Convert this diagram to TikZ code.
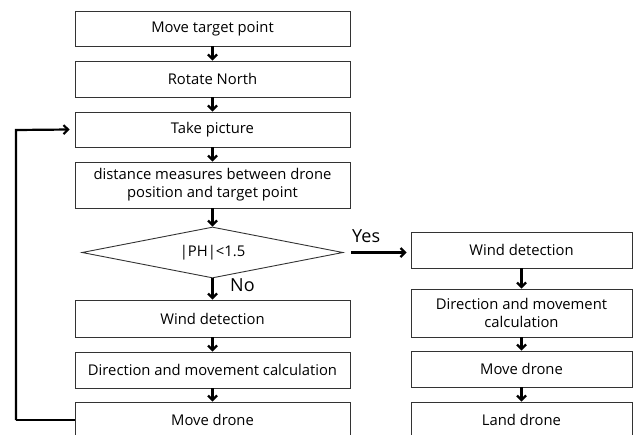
\documentclass[tikz,border=0pt]{standalone}
\usepackage{fontspec}
\setmainfont{Open Sans}
\usetikzlibrary{arrows.meta,shapes.geometric}
\begin{document}
\begin{tikzpicture}[x=1pt,y=-1pt,
  box/.style={draw=black!80,line width=0.9pt,fill=white,inner sep=0pt,align=center,font=\fontsize{14.8}{18}\selectfont},
  arr/.style={line width=2.2pt,-{Straight Barb[length=4.5pt,width=9pt,line width=2.2pt]}},
  lbl/.style={font=\fontsize{18}{20}\selectfont,inner sep=0pt}]
\useasboundingbox (0,0) rectangle (637,434);
\node[box,minimum width=275pt,minimum height=35pt] (b1) at (212.5,28.5) {Move target point};
\node[box,minimum width=275pt,minimum height=36pt] (b2) at (212.5,79) {Rotate North};
\node[box,minimum width=275pt,minimum height=35pt] (b3) at (212.5,129.5) {Take picture};
\node[box,minimum width=275pt,minimum height=46pt] (b4) at (212.5,185) {distance measures between drone\\position and target point};
\node[draw=black!80,line width=0.9pt,diamond,aspect=5.1,minimum width=261pt,minimum height=51pt,inner sep=0pt,font=\fontsize{14.8}{18}\selectfont] (d) at (212.5,252.5) {|PH|<1.5};
\node[box,minimum width=275pt,minimum height=37pt] (l1) at (212.5,318.5) {Wind detection};
\node[box,minimum width=275pt,minimum height=36pt] (l2) at (212.5,370) {Direction and movement calculation};
\node[box,minimum width=275pt,minimum height=36pt] (l3) at (212.5,420) {Move drone};
\node[box,minimum width=221pt,minimum height=36pt] (r1) at (521.5,250) {Wind detection};
\node[box,minimum width=221pt,minimum height=48pt] (r2) at (521.5,313) {Direction and movement\\calculation};
\node[box,minimum width=221pt,minimum height=36pt] (r3) at (521.5,369) {Move drone};
\node[box,minimum width=221pt,minimum height=36pt] (r4) at (521.5,420) {Land drone};
\draw[arr] (b1) -- (b2);
\draw[arr] (b2) -- (b3);
\draw[arr] (b3) -- (b4);
\draw[arr] (b4) -- (d);
\draw[arr] (d) -- (l1);
\draw[arr] (l1) -- (l2);
\draw[arr] (l2) -- (l3);
\draw[arr] (r1) -- (r2);
\draw[arr] (r2) -- (r3);
\draw[arr] (r3) -- (r4);
\coordinate (ys) at (351,252.5);
\draw[arr] (ys) -- ([xshift=-4pt]r1.west |- ys);
\coordinate (fl) at (16,420);
\coordinate (fu) at (16,130);
\draw[line width=2.2pt] (l3.west) -- (fl);
\draw[arr] (fl) -- (fu) -- ([xshift=-5pt]b3.west);
\node[lbl,anchor=south west] (yes) at (352,243) {Yes};
\node[lbl,anchor=west] (no) at (230,285) {No};
\end{tikzpicture}
\end{document}
